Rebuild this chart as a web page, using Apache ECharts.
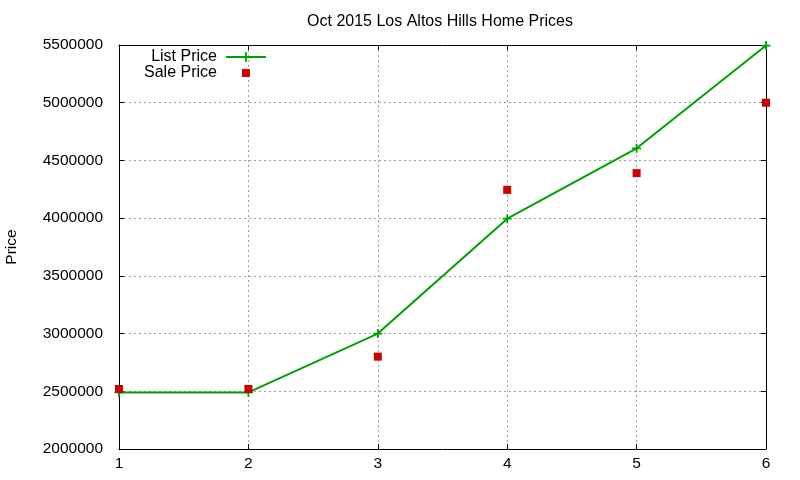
<!DOCTYPE html>
<html lang="en">
<head>
    <meta charset="UTF-8">
    <title>Oct 2015 Los Altos Hills Home Prices</title>
    <script src="https://cdn.jsdelivr.net/npm/echarts@6/dist/echarts.min.js"></script>
    <style>
        html, body { margin: 0; padding: 0; background: #fff; }
    </style>
</head>
<body>
    <div id="chart" style="width: 800px; height: 480px;"></div>
    <script>
    var chart = echarts.init(document.getElementById('chart'));

    // house number on the x axis
    var houseIdx = [1, 2, 3, 4, 5, 6];
    // list prices
    var listPrice = [2490000, 2490000, 3000000, 3995000, 4605000, 5495000];
    // sale prices
    var salePrice = [2520000, 2520000, 2800000, 4245000, 4390000, 5000000];

    var font = 'Liberation Sans, Arial, sans-serif';
    var plusIcon = 'path://M4,0H6V4H10V6H6V10H4V6H0V4H4Z';
    // small square in a 40x12 box, for the legend sample
    var squareIcon = 'path://M0,0M40,12M16,2H24V10H16Z';

    function pairs(xs, ys) {
        var out = [];
        for (var i = 0; i < xs.length; i++) out.push([xs[i], ys[i]]);
        return out;
    }

    var gridLine = { show: true, lineStyle: { color: '#a0a0a0', type: [2, 3], width: 1 } };
    var mirror = {
        axisLine: { show: true, lineStyle: { color: '#000', width: 1 } },
        axisTick: { show: true, inside: true, length: 5, lineStyle: { color: '#000' } },
        axisLabel: { show: false },
        splitLine: { show: false }
    };

    var option = {
        animation: false,
        backgroundColor: '#fff',
        title: {
            text: 'Oct 2015 Los Altos Hills Home Prices',
            left: 435,
            textAlign: 'center',
            top: 9,
            textStyle: { fontFamily: font, fontSize: 16, fontWeight: 'normal', color: '#000' }
        },
        legend: {
            orient: 'vertical',
            align: 'right',
            left: 139,
            top: 44,
            itemWidth: 40,
            itemHeight: 12,
            itemGap: 0,
            textStyle: { fontFamily: font, fontSize: 16, lineHeight: 16, color: '#000', padding: [0, 4, 0, 0] },
            data: ['List Price', { name: 'Sale Price', icon: squareIcon }]
        },
        grid: { left: 119, right: 34, top: 45, bottom: 31, outerBoundsMode: 'none' },
        xAxis: [{
            type: 'value', min: 1, max: 6, interval: 1,
            axisLine: { show: true, onZero: false, lineStyle: { color: '#000', width: 1 } },
            axisTick: { show: true, inside: true, length: 5, lineStyle: { color: '#000' } },
            axisLabel: { fontFamily: font, fontSize: 15.5, color: '#000', margin: 7 },
            splitLine: gridLine
        }, Object.assign({ type: 'value', min: 1, max: 6, interval: 1, position: 'top' }, mirror)],
        yAxis: [{
            type: 'value', min: 2000000, max: 5500000, interval: 500000,
            name: 'Price', nameLocation: 'middle', nameGap: 99, nameRotate: 90,
            nameTextStyle: { fontFamily: font, fontSize: 15.5, color: '#000' },
            axisLine: { show: true, onZero: false, lineStyle: { color: '#000', width: 1 } },
            axisTick: { show: true, inside: true, length: 5, lineStyle: { color: '#000' } },
            axisLabel: {
                fontFamily: font, fontSize: 15.5, color: '#000', margin: 16,
                formatter: function (v) { return String(v); }
            },
            splitLine: gridLine
        }, Object.assign({ type: 'value', min: 2000000, max: 5500000, interval: 500000, position: 'right' }, mirror)],
        series: [{
            name: 'List Price',
            type: 'line',
            data: pairs(houseIdx, listPrice),
            symbol: plusIcon,
            symbolSize: 9,
            showAllSymbol: true,
            color: '#00a000',
            lineStyle: { color: '#00a000', width: 2 },
            itemStyle: { color: '#00a000' },
            z: 3
        }, {
            name: 'Sale Price',
            type: 'scatter',
            data: pairs(houseIdx, salePrice),
            symbol: 'rect',
            symbolSize: 8,
            itemStyle: { color: '#cc0000', opacity: 1 },
            z: 4
        }]
    };

    chart.setOption(option);
    </script>
</body>
</html>
